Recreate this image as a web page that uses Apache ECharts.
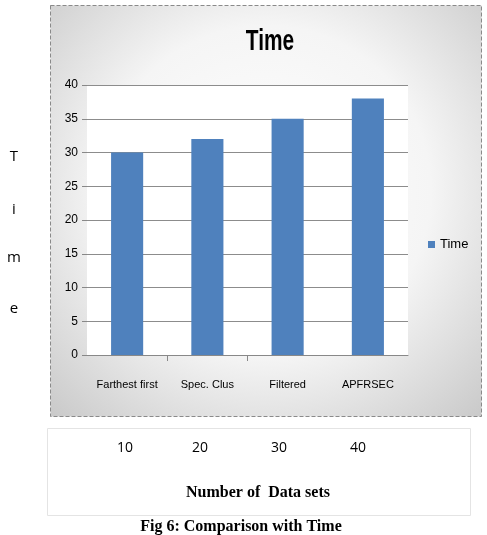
<!DOCTYPE html>
<html><head><meta charset="utf-8">
<script src="https://cdn.jsdelivr.net/npm/echarts@6/dist/echarts.min.js"></script>
<style>html,body{margin:0;padding:0;background:#fff}#c{width:487px;height:535px}</style>
</head><body><div id="c"></div>
<script>
const categories = ['Farthest first', 'Spec. Clus', 'Filtered', 'APFRSEC'];
const timeValues = [30, 32, 35, 38];
const yTicks = { min: 0, max: 40, interval: 5 };
const dataSetLabels = ['10', '20', '30', '40'];
const sideLetters = ['T', 'i', 'm', 'e'];

const sans = '"Liberation Sans",Arial,sans-serif';
const serif = '"Liberation Serif","Times New Roman",serif';
const chart = echarts.init(document.getElementById('c'));
const dsX = [125, 200, 279, 358];
const letterY = [157, 210, 258, 309];

const graphics = [
  { type: 'rect', z: -10, shape: { x: 50.5, y: 5.5, width: 431, height: 411 },
    style: { fill: new echarts.graphic.RadialGradient(0.5, 0.45, 0.8, [
      { offset: 0, color: '#ffffff' }, { offset: 0.5, color: '#f5f5f5' }, { offset: 1, color: '#c4c4c4' }]),
      stroke: '#8a8a8a', lineWidth: 1, lineDash: [4, 2] } },
  { type: 'rect', z: -10, shape: { x: 47.5, y: 428.5, width: 423, height: 87 },
    style: { fill: '#fff', stroke: '#e4e4e4', lineWidth: 1 } },
  { type: 'text', x: 241, y: 527, style: { text: 'Fig 6: Comparison with Time', align: 'center', verticalAlign: 'middle',
    font: 'bold 16px ' + serif, fill: '#000' } },
  { type: 'text', x: 258, y: 493, style: { text: 'Number of  Data sets', align: 'center', verticalAlign: 'middle',
    font: 'bold 16px ' + serif, fill: '#000' } },
  { type: 'text', x: 270, y: 42, scaleX: 0.72, style: { text: 'Time', align: 'center', verticalAlign: 'middle',
    font: 'bold 29px ' + sans, fill: '#000' } }
];
dataSetLabels.forEach((t, i) => graphics.push({ type: 'text', x: dsX[i], y: 448,
  style: { text: t, align: 'center', verticalAlign: 'middle', font: '14px "Open Sans",sans-serif', fill: '#000' } }));
sideLetters.forEach((t, i) => graphics.push({ type: 'text', x: 14, y: letterY[i],
  style: { text: t, align: 'center', verticalAlign: 'middle', font: '15px "Open Sans",sans-serif', fill: '#000' } }));

chart.setOption({
  animation: false,
  legend: { data: ['Time'], left: 423, top: 233, itemWidth: 7, itemHeight: 7, icon: 'rect', itemGap: 5,
    textStyle: { fontFamily: sans, fontSize: 13, color: '#000' } },
  grid: { left: 87, right: 79, top: 85, bottom: 180, show: true, backgroundColor: '#ffffff', borderWidth: 0 },
  xAxis: [{ type: 'category', data: categories,
    axisLine: { lineStyle: { color: '#888' } },
    axisTick: { show: false },
    axisLabel: { interval: 0, margin: 24, fontFamily: sans, fontSize: 11, color: '#000' } },
    { type: 'value', position: 'bottom', min: 0, max: categories.length, interval: 1,
      axisLine: { show: false }, splitLine: { show: false }, axisLabel: { show: false },
      axisTick: { show: true, length: 6, customValues: [1, 2], lineStyle: { color: '#888' } } }],
  yAxis: { type: 'value', min: yTicks.min, max: yTicks.max, interval: yTicks.interval,
    axisLine: { show: false },
    axisTick: { show: true, length: 5, lineStyle: { color: '#888' } },
    splitLine: { lineStyle: { color: '#8c8c8c' } },
    axisLabel: { margin: 9, fontFamily: sans, fontSize: 12, color: '#000' } },
  series: [{ name: 'Time', type: 'bar', data: timeValues, barWidth: '40%', xAxisIndex: 0,
    itemStyle: { color: '#4f81bd' } }],
  graphic: graphics
});
</script></body></html>
